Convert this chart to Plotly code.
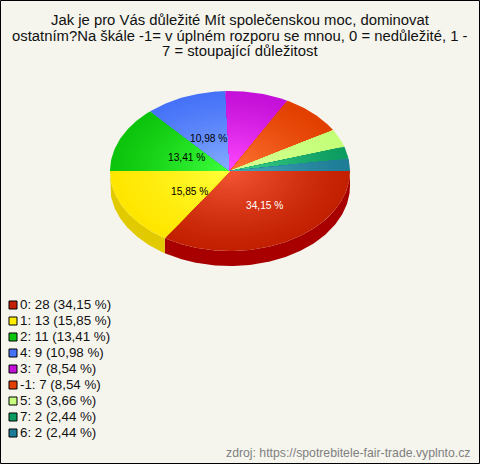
import math
import plotly.graph_objects as go

# --- data ---
categories = ["0", "1", "2", "4", "3", "-1", "5", "7", "6"]
counts = [28, 13, 11, 9, 7, 7, 3, 2, 2]
title_lines = [
    "Jak je pro Vás důležité Mít společenskou moc, dominovat",
    "ostatním?Na škále -1= v úplném rozporu se mnou, 0 = nedůležité, 1 -",
    "7 = stoupající důležitost",
]
source_text = "zdroj: https://spotrebitele-fair-trade.vyplnto.cz"

# --- style ---
outer_colors = ["#C22000", "#FFE600", "#0CC40C", "#4672F8", "#C410D8", "#E23F00", "#C4FF78", "#0C9C60", "#1E7C96"]
inner_colors = ["#F25434", "#FFFF38", "#3CFF3C", "#86AEFF", "#FF48FF", "#FF7434", "#D8FF98", "#40D090", "#46A8BC"]
side_colors = {"0": "#A80000", "1": "#E2CA00"}
legend_colors = ["#C22000", "#FFEE00", "#0CC40C", "#4672F8", "#C410D8", "#E23F00", "#C8FF80", "#0C9C60", "#1E7C96"]
BG = "#F5F5EE"
CX, CY, RX, RY, DEPTH = 230, 171, 120, 80, 15
RINGS = 32
label_shown = {"0": ("#FFFFFF", 264.5, 205), "1": ("#000000", 189, 191), "2": ("#000000", 186, 157), "4": ("#000000", 208, 138)}


def hex_mix(a, b, t):
    ca = [int(a[i:i + 2], 16) for i in (1, 3, 5)]
    cb = [int(b[i:i + 2], 16) for i in (1, 3, 5)]
    return "rgb(%d,%d,%d)" % tuple(round(p + (q - p) * t) for p, q in zip(ca, cb))


def arc(a0, a1, rx, ry, dy=0):
    n = max(2, int(abs(a1 - a0) * 60))
    return [(CX + rx * math.cos(a0 + (a1 - a0) * i / n), CY + dy + ry * math.sin(a0 + (a1 - a0) * i / n)) for i in range(n + 1)]


total = sum(counts)
pcts = [c / total * 100 for c in counts]
fmt = lambda p: f"{p:.2f}".replace(".", ",") + " %"
fig = go.Figure()


def poly(points, color):
    fig.add_trace(go.Scatter(x=[p[0] for p in points], y=[p[1] for p in points], mode="lines",
                             fill="toself", fillcolor=color, line=dict(width=0), hoverinfo="skip", showlegend=False))


angles = []
acc = 0
for c in counts:
    a0 = acc / total * 2 * math.pi
    acc += c
    angles.append((a0, acc / total * 2 * math.pi))

# side wall of the front half
for cat, (a0, a1) in zip(categories, angles):
    if cat in side_colors:
        top = arc(a0, min(a1, math.pi), RX, RY)
        poly(top + arc(min(a1, math.pi), a0, RX, RY, DEPTH), side_colors[cat])

# top surface, from the rim inward
for i, (a0, a1) in enumerate(angles):
    for k in range(RINGS):
        f = 1 - k / RINGS
        poly([(CX, CY)] + arc(a0, a1, RX * f, RY * f) + [(CX, CY)],
             hex_mix(outer_colors[i], inner_colors[i], (k / (RINGS - 1)) ** 1.2))

# legend
row_y = [305 + 16 * i for i in range(len(categories))]
fig.add_trace(go.Scatter(
    x=[13] * len(categories), y=row_y, mode="markers",
    marker=dict(symbol="square", size=8, color=legend_colors, line=dict(color="#000000", width=1)),
    hoverinfo="skip", showlegend=False))
fig.add_trace(go.Scatter(
    x=[20] * len(categories), y=[y + 1 for y in row_y], mode="text",
    text=[f"{cat}: {c} ({fmt(p)})" for cat, c, p in zip(categories, counts, pcts)],
    textposition="middle right",
    textfont=dict(family="Liberation Sans", size=13.33, color="#111111"),
    hoverinfo="skip", showlegend=False))

annotations = []
for line, y in zip(title_lines, (20, 35.5, 51)):
    annotations.append(dict(x=240, y=y, text=line, showarrow=False, xanchor="center", yanchor="middle",
                            font=dict(family="Liberation Sans", size=14.85, color="#111111")))
for cat, p in zip(categories, pcts):
    if cat in label_shown:
        col, x, y = label_shown[cat]
        annotations.append(dict(x=x, y=y, text=fmt(p), showarrow=False, xanchor="center", yanchor="middle",
                                font=dict(family="Liberation Sans", size=10.2, color=col)))
annotations.append(dict(x=472, y=453, text=source_text, showarrow=False, xanchor="right", yanchor="middle",
                        font=dict(family="Liberation Sans", size=12.25, color="#808080")))

fig.update_layout(
    width=480, height=464, margin=dict(l=0, r=0, t=0, b=0),
    paper_bgcolor=BG, plot_bgcolor=BG, annotations=annotations,
    xaxis=dict(range=[0, 480], visible=False, fixedrange=True),
    yaxis=dict(range=[464, 0], visible=False, fixedrange=True),
    shapes=[dict(type="rect", x0=0.5, x1=479.5, y0=0.5, y1=463.5, line=dict(color="#000000", width=1), fillcolor="rgba(0,0,0,0)")],
)
html_cfg = {"displayModeBar": False}
fig.write_html("out.html", config=html_cfg, default_width=480, default_height=464)
# remove page margin so the figure fills the window
s = open("out.html", encoding="utf-8").read().replace("<head>", "<head><style>html,body{margin:0;padding:0;overflow:hidden}</style>", 1)
open("out.html", "w", encoding="utf-8").write(s)
